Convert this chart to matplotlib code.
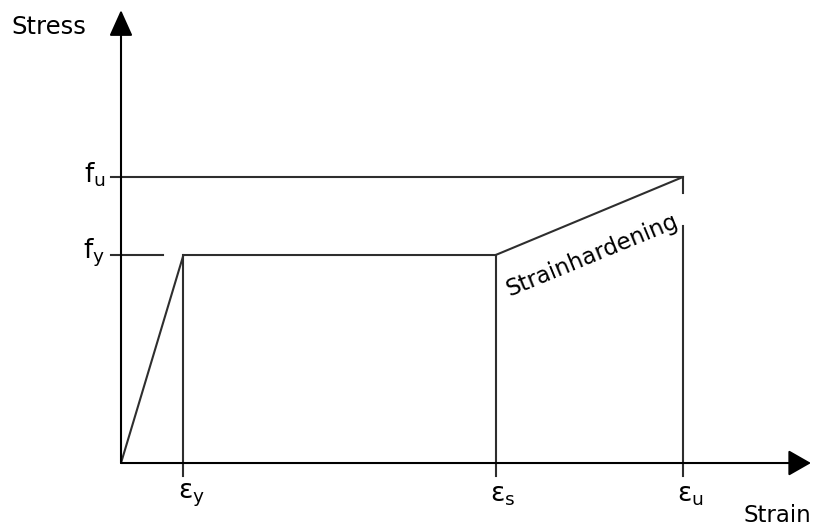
import matplotlib
matplotlib.use('Agg')
import matplotlib.pyplot as plt

# strain points (relative units) and stress levels
eps_y = 1.0
eps_s = 6.0
eps_u = 9.0
f_y = 400.0
f_u = 550.0

strain = [0.0, eps_y, eps_s, eps_u]
stress = [0.0, f_y, f_y, f_u]

eps_labels = ['y', 's', 'u']
eps_marks = [eps_y, eps_s, eps_u]
f_labels = ['u', 'y']
f_levels = [f_u, f_y]

col = '#2e2e2e'
lw = 1.5

fig = plt.figure(figsize=(8.15, 5.29), dpi=100)
ax = fig.add_axes([0, 0, 1, 1])
ax.set_xlim(-1.938, 11.115)
ax.set_ylim(-126.9, 890.4)
ax.axis('off')

# axes with arrow heads
x_tip = 11.05
y_tip = 871
ax.annotate('', xy=(0, y_tip), xytext=(0, 0),
            arrowprops=dict(arrowstyle='-|>,head_length=1.6,head_width=0.72',
                            mutation_scale=10, color='black', lw=lw,
                            shrinkA=0, shrinkB=0))
ax.annotate('', xy=(x_tip, 0), xytext=(0, 0),
            arrowprops=dict(arrowstyle='-|>,head_length=1.4,head_width=0.8',
                            mutation_scale=10, color='black', lw=lw,
                            shrinkA=0, shrinkB=0))

# stress-strain curve
ax.plot(strain, stress, color=col, lw=lw, solid_capstyle='butt')

# reference lines for fu and fy
ax.plot([-0.16, eps_u], [f_u, f_u], color=col, lw=lw)
ax.plot([-0.16, 0.67], [f_y, f_y], color=col, lw=lw)

# vertical drop lines (eps_u broken where the label passes)
tick_bot = -25
ax.plot([eps_y, eps_y], [tick_bot, f_y], color=col, lw=lw)
ax.plot([eps_s, eps_s], [tick_bot, f_y], color=col, lw=lw)
ax.plot([eps_u, eps_u], [tick_bot, 456], color=col, lw=lw)
ax.plot([eps_u, eps_u], [519, f_u], color=col, lw=lw)

# labels
ax.text(-1.75, 838, 'Stress', fontsize=17.5, ha='left', va='center')
ax.text(11.06, -100, 'Strain', fontsize=16.5, ha='right', va='center')

for lab, lev in zip(f_labels, f_levels):
    ax.text(-0.25, lev + 4, r'$\mathregular{f_%s}$' % lab, fontsize=19,
            ha='right', va='center')

for lab, e in zip(eps_labels, eps_marks):
    ax.text(e - 0.09, -62, r'$\mathregular{ε_%s}$' % lab, fontsize=19,
            ha='left', va='center')

ax.text(7.55, 400, 'Strainhardening', fontsize=16.5, rotation=22.4,
        rotation_mode='anchor', ha='center', va='center')

fig.savefig('out.png', dpi=100)
